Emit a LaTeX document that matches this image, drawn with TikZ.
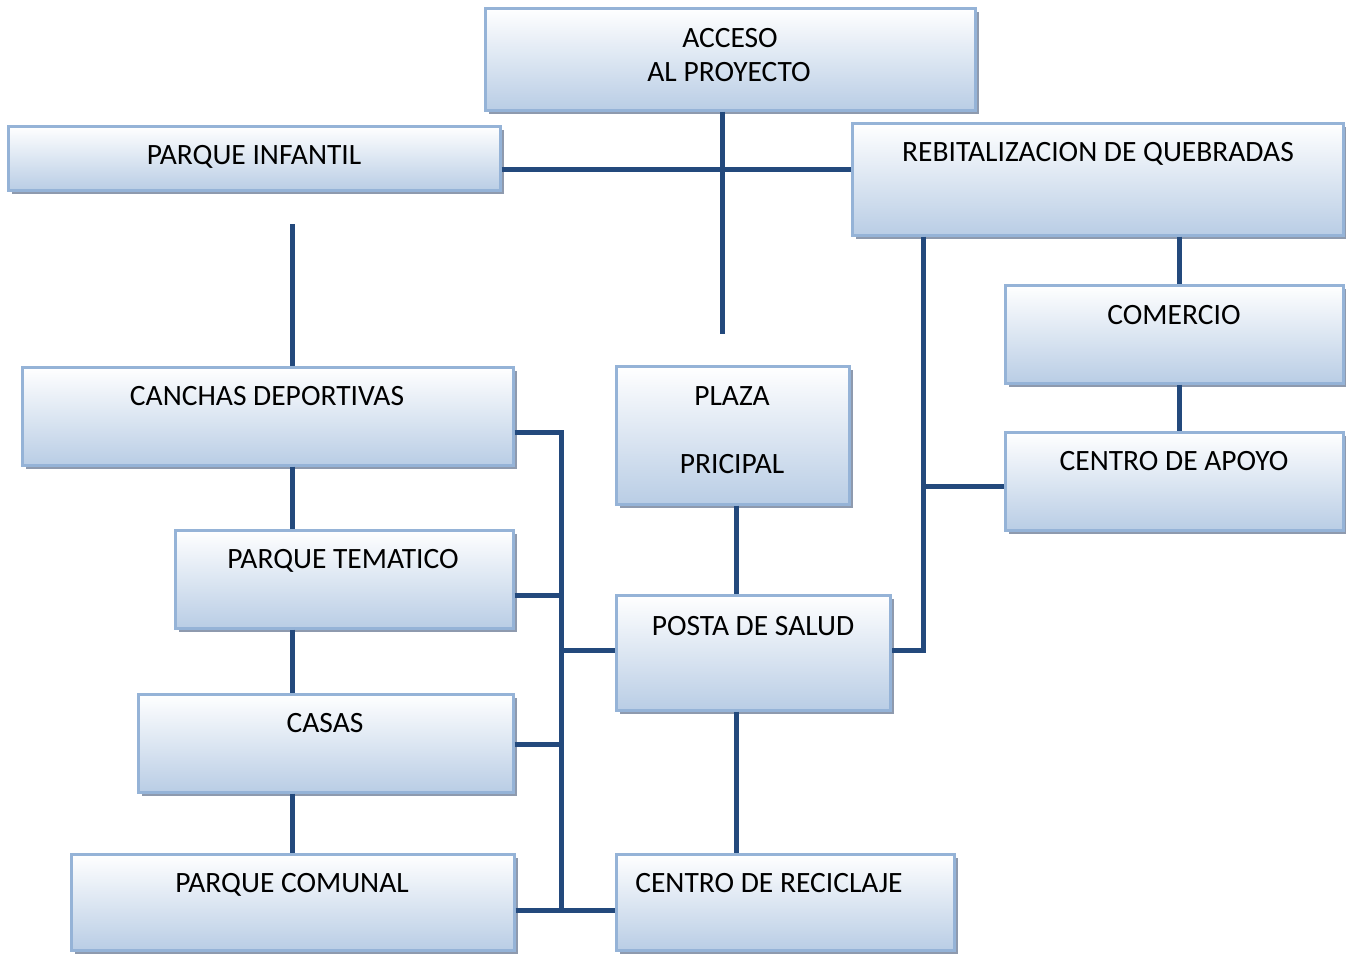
\documentclass[tikz,border=0pt]{standalone}
\usepackage{fontspec}
\setmainfont{Carlito}
\usetikzlibrary{shadows}
\definecolor{boxbot}{HTML}{B9CDE5}
\definecolor{boxmid}{HTML}{DCE6F2}
\definecolor{boxline}{HTML}{95B3D7}
\definecolor{shadowc}{HTML}{8E9AAE}
\definecolor{connc}{HTML}{23497C}
\tikzset{
  box/.style={rectangle, draw=boxline, line width=2.5pt, inner sep=0pt,
    top color=white, bottom color=boxbot, middle color=boxmid, anchor=north west,
    drop shadow={shadow xshift=4pt, shadow yshift=-4pt, fill=shadowc, opacity=1}},
  txt/.style={font=\fontsize{29.5}{34}\selectfont, text height=19pt, text depth=0pt, inner sep=0pt, anchor=center},
  conn/.style={draw=connc, line width=5pt, line join=miter}
}
\newcommand{\bx}[5]{\node[box, minimum width=#4-#2, minimum height=#5-#3] (#1) at (#2-1,-#3+1) {};}
\begin{document}
\begin{tikzpicture}[x=1pt,y=1pt]
\useasboundingbox (0,0) rectangle (1346,-954);
% boxes
\bx{acc}{485}{8}{975}{110}
\bx{pinf}{8}{126}{500}{190}
\bx{reb}{852}{123}{1343}{235}
\bx{com}{1005}{285}{1343}{383}
\bx{apo}{1005}{432}{1343}{530}
\bx{can}{22}{367}{513}{465}
\bx{pla}{616}{366}{849}{504}
\bx{pt}{175}{530}{513}{628}
\bx{pos}{616}{595}{890}{710}
\bx{cas}{138}{694}{513}{792}
\bx{pc}{71}{854}{514}{950}
\bx{rec}{616}{854}{954}{950}
% texts
\node[txt] (tacc1) at (730,-38) {ACCESO};
\node[txt] (tacc2) at (729,-72) {AL PROYECTO};
\node[txt] (tpinf) at (254,-155) {PARQUE INFANTIL};
\node[txt] (treb) at (1098,-152) {REBITALIZACION DE QUEBRADAS};
\node[txt] (tcom) at (1174,-315) {COMERCIO};
\node[txt] (tapo) at (1174,-461) {CENTRO DE APOYO};
\node[txt] (tcan) at (267,-396) {CANCHAS DEPORTIVAS};
\node[txt] (tpla1) at (732,-396) {PLAZA};
\node[txt] (tpla2) at (732,-464) {PRICIPAL};
\node[txt] (tpt) at (343,-559) {PARQUE TEMATICO};
\node[txt] (tpos) at (753,-626) {POSTA DE SALUD};
\node[txt] (tcas) at (325,-723) {CASAS};
\node[txt] (tpc) at (292,-883) {PARQUE COMUNAL};
\node[txt] (trec) at (769,-883) {CENTRO DE RECICLAJE};
% helper coordinates
\coordinate (accend) at (722,-334);
\coordinate (h169) at (0,-169);
\coordinate (lefttop) at (292,-224);
\coordinate (xl) at (292,0);
\coordinate (bus) at (561,0);
\coordinate (xm) at (736,0);
\coordinate (xr) at (923,0);
\coordinate (xrr) at (1179,0);
\coordinate (y432) at (0,-432);
\coordinate (y595) at (0,-595);
\coordinate (y650) at (0,-650);
\coordinate (y744) at (0,-744);
\coordinate (y910) at (0,-910);
\coordinate (y486) at (0,-486);
% connectors
\draw[conn] (acc.south -| accend) -- (accend);
\draw[conn] (pinf.east |- h169) -- (reb.west |- h169);
\draw[conn] (lefttop) -- (can.north -| lefttop);
\draw[conn] (can.south -| xl) -- (pt.north -| xl);
\draw[conn] (pt.south -| xl) -- (cas.north -| xl);
\draw[conn] (cas.south -| xl) -- (pc.north -| xl);
\draw[conn] (can.east |- y432) -- (bus |- y432) -- (bus |- y910) -- (rec.west |- y910);
\draw[conn] (pt.east |- y595) -- (bus |- y595);
\draw[conn] (cas.east |- y744) -- (bus |- y744);
\draw[conn] (pc.east |- y910) -- (bus |- y910);
\draw[conn] (bus |- y650) -- (pos.west |- y650);
\draw[conn] (pla.south -| xm) -- (pos.north -| xm);
\draw[conn] (pos.south -| xm) -- (rec.north -| xm);
\draw[conn] (reb.south -| xr) -- (xr |- y650) -- (pos.east |- y650);
\draw[conn] (xr |- y486) -- (apo.west |- y486);
\draw[conn] (reb.south -| xrr) -- (com.north -| xrr);
\draw[conn] (com.south -| xrr) -- (apo.north -| xrr);
\end{tikzpicture}
\end{document}
